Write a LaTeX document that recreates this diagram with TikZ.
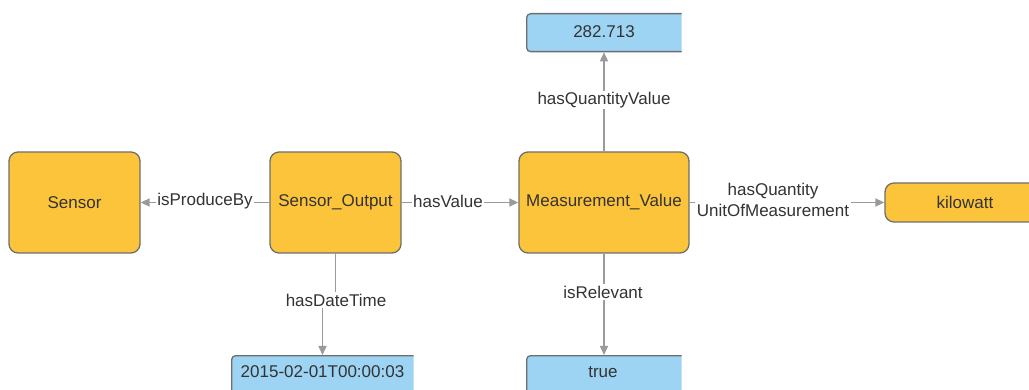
\documentclass[tikz,border=0pt]{standalone}
\usepackage{fontspec}
\setmainfont{Liberation Sans}
\usetikzlibrary{arrows.meta}
\definecolor{boxorange}{HTML}{FBC43A}
\definecolor{boxblue}{HTML}{9DD3F3}
\definecolor{edgegray}{HTML}{9A9A9A}
\definecolor{framegray}{HTML}{6E6E6E}
\definecolor{inkgray}{HTML}{333333}

\begin{document}
\begin{tikzpicture}[x=1pt,y=-1pt,
  font=\fontsize{17}{21}\selectfont, text=inkgray,
  classbox/.style={draw=framegray, line width=1.3pt, fill=boxorange,
    rounded corners=9pt, inner sep=0pt},
  literal/.style={draw=framegray, line width=1.3pt, fill=boxblue,
    rounded corners=4pt, inner sep=0pt},
  anchorbox/.style={inner sep=0pt},
  link/.style={draw=edgegray, line width=1.5pt,
    -{Triangle[length=9pt,width=8pt]}},
  tag/.style={fill=white, inner sep=1.5pt, text=inkgray, align=center}]

\useasboundingbox (0,0) rectangle (1029,390);
\clip (0,0) rectangle (1029,390);

% class nodes
\node[classbox, minimum width=131pt, minimum height=101pt] (sensor) at (74.5,202.5) {Sensor};
\node[classbox, minimum width=131pt, minimum height=101pt] (so) at (335.5,202.5) {Sensor\_Output};
\node[classbox, minimum width=170pt, minimum height=101pt] (mv) at (604,202.5) {Measurement\_Value};
\node[classbox, minimum width=160pt, minimum height=39pt] (kw) at (965,202.5) {kilowatt};

% literal nodes (cut off on the right)
\begin{scope}
  \clip (0,0) rectangle (681.5,390);
  \node[literal, minimum width=170pt, minimum height=38pt, anchor=north west] (valbox) at (526,13) {};
  \node[literal, minimum width=170pt, minimum height=50pt, anchor=north west] (truebox) at (526,355) {};
\end{scope}
\begin{scope}
  \clip (0,0) rectangle (413.5,390);
  \node[literal, minimum width=200pt, minimum height=50pt, anchor=north west] (datebox) at (231,355) {};
\end{scope}
\node[anchorbox] (val) at (604,32) {282.713};
\node[anchorbox] (tv) at (603,372) {true};
\node[anchorbox] (dt) at (322.5,372) {2015-02-01T00:00:03};

% connectors
\draw[link] (so.west) -- (sensor.east);
\draw[link] (so.east) -- (mv.west);
\draw[link] (mv.east) -- (kw.west);
\draw[link] (mv.north) -- (mv.north |- valbox.south);
\draw[link] (mv.south) -- (mv.south |- truebox.north);
\coordinate (bend) at (336,300);
\draw[link] (so.south) -- (so.south |- bend) -- (dt.center |- bend) -- (dt.center |- datebox.north);

% connector labels
\node[tag] (l1) at (205,201) {isProduceBy};
\node[tag] (l2) at (448,201) {hasValue};
\node[tag] (l3) at (604,100) {hasQuantityValue};
\node[tag] (l4) at (603,292) {isRelevant};
\node[tag] (l5) at (bend) {hasDateTime};
\node[tag] (l6) at (773,200) {hasQuantity\\UnitOfMeasurement};
\end{tikzpicture}
\end{document}
